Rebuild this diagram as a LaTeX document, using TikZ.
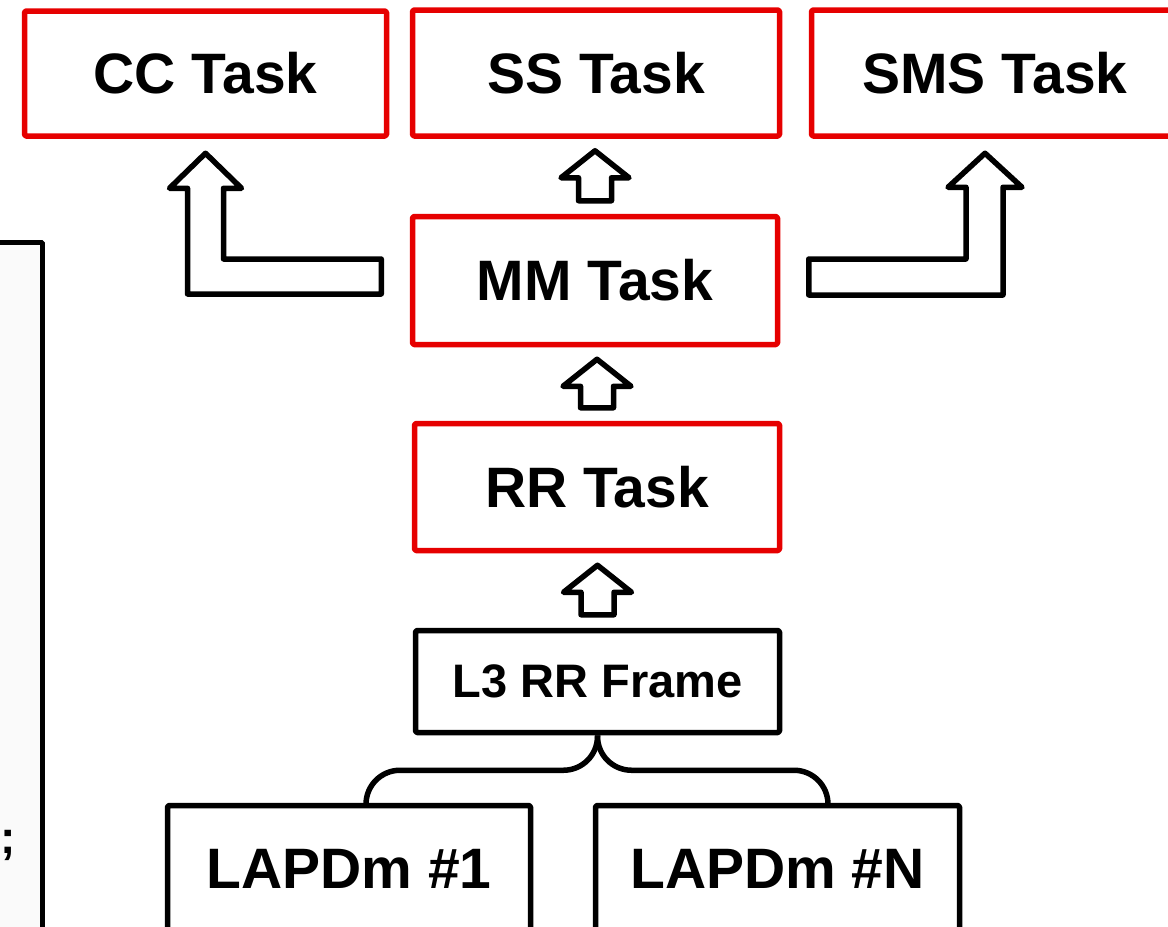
\documentclass[tikz,border=0pt]{standalone}
\usepackage{fontspec}
\setmainfont{Liberation Sans}
\usepackage{tikz}
\usetikzlibrary{positioning,calc}
\definecolor{taskred}{RGB}{230,0,0}
\definecolor{sidegray}{RGB}{250,250,250}
\tikzset{
  taskbox/.style={draw=taskred,line width=5.5bp,rounded corners=1.5bp,fill=white,inner sep=0pt,
    minimum width=365bp,minimum height=127bp,font=\fontsize{57bp}{60bp}\selectfont\bfseries},
  framebox/.style={taskbox,draw=black},
  blockarrow/.style={draw=black,line width=5.5bp,line join=round,fill=white},
  brace/.style={draw=black,line width=5.5bp,rounded corners=34bp},
}
% block arrow pointing up from #1 to #2
\newcommand{\upblock}[2]{%
  \draw[blockarrow] let \p1=(#1.north), \p2=(#2.south) in
    (\x1,{\y2-12bp}) -- ++(34bp,-27bp) -- ++(-17.5bp,0) -- ({\x1+16.5bp},{\y1+13bp})
    -- ({\x1-16.5bp},{\y1+13bp}) -- ({\x1-16.5bp},{\y2-39bp}) -- ++(-17.5bp,0) -- cycle;}

\begin{document}
\begin{tikzpicture}[>=latex,line join=bevel,]
\useasboundingbox (0bp,0bp) rectangle (1168bp,-927bp);
\clip (0bp,0bp) rectangle (1168bp,-927bp);
%%
\node (side) at (16bp,-592.5bp) [draw,line width=5.5bp,fill=sidegray,inner sep=0pt,minimum width=53bp,minimum height=700bp] {};
  \node (semi) at (0bp,-853bp) [anchor=base west,inner sep=0pt,font=\fontsize{46bp}{48bp}\selectfont\bfseries] {;};
%
\node (cc) at (205.5bp,-73.5bp) [taskbox,minimum width=362bp,minimum height=125bp] {CC Task};
  \node (ss) at (596bp,-73bp) [taskbox,minimum width=367bp,minimum height=126bp] {SS Task};
  \node (sms) at (995bp,-73bp) [taskbox,minimum width=367bp,minimum height=126bp] {SMS Task};
  \node (mm) at (595bp,-280.5bp) [taskbox,minimum height=128bp] {MM Task};
  \node (rr) at (597bp,-487bp) [taskbox] {RR Task};
  \node (frame) at (597.5bp,-681.5bp) [framebox,minimum width=364bp,minimum height=102bp,font=\fontsize{47bp}{50bp}\selectfont\bfseries] {L3 RR Frame};
  \node (lapd1) at (349bp,-869bp) [framebox,minimum width=363bp] {LAPDm \#1};
  \node (lapdn) at (777.5bp,-869bp) [framebox,minimum width=364bp] {LAPDm \#N};
%
\upblock{mm}{ss}
\upblock{rr}{mm}
\upblock{frame}{rr}
%
\draw [blockarrow] let \p1=(mm.west), \p2=(cc.south) in
  (\x2,{\y2-14.5bp}) -- ++(36bp,-35bp) -- ++(-18bp,0) -- ({\x2+18bp},{\y1+21.5bp})
  -- ({\x1-28.5bp},{\y1+21.5bp}) -- ({\x1-28.5bp},{\y1-13.5bp}) -- ({\x2-18bp},{\y1-13.5bp})
  -- ({\x2-18bp},{\y2-49.5bp}) -- ++(-18bp,0) -- cycle;
\draw [blockarrow] let \p1=(mm.east), \p2=(sms.south) in
  ({\x2-10bp},{\y2-14.5bp}) -- ++(37bp,-34bp) -- ++(-19bp,0) -- ({\x2+8bp},{\y1-14.5bp})
  -- ({\x1+28.5bp},{\y1-14.5bp}) -- ({\x1+28.5bp},{\y1+21.5bp}) -- ({\x2-29bp},{\y1+21.5bp})
  -- ({\x2-29bp},{\y2-48.5bp}) -- ++(-18bp,0) -- cycle;
%
\coordinate (brl) at (366bp,-803bp);
  \coordinate (brn) at (828bp,-803bp);
  \draw [brace] (brl) |- ([yshift=-35bp]frame.south) -- (frame.south);
  \draw [brace] (brn) |- ([yshift=-35bp]frame.south) -- (frame.south);
%
\end{tikzpicture}
\end{document}
